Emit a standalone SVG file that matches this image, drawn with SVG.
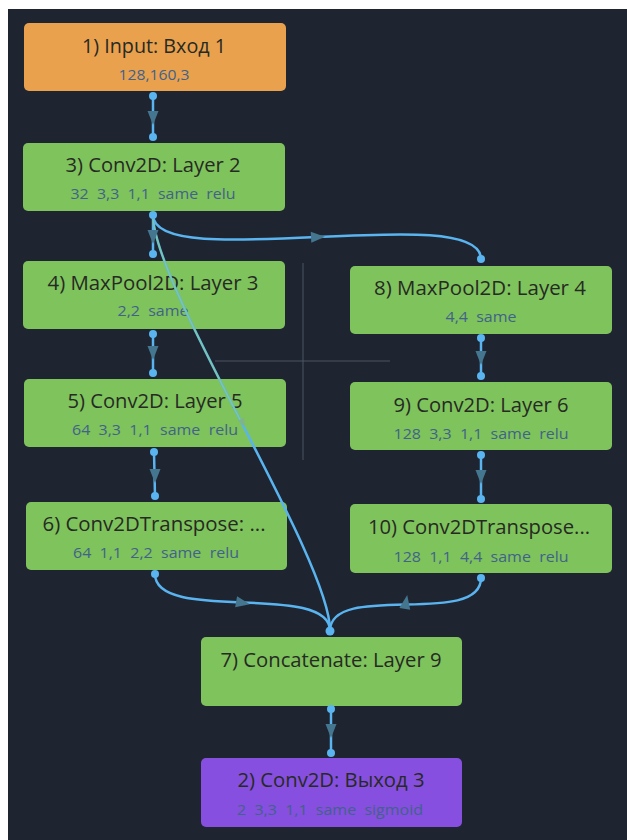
<svg xmlns="http://www.w3.org/2000/svg" xmlns:xlink="http://www.w3.org/1999/xlink" width="627" height="840" viewBox="0 0 627 840">
<style>
.t{font-family:"Open Sans","Noto Sans","Liberation Sans",sans-serif;font-size:20px;fill:#262a24;text-anchor:middle;white-space:pre}
.s{font-family:"Open Sans","Noto Sans","Liberation Sans",sans-serif;font-size:15px;fill:#41628a;text-anchor:middle;white-space:pre}
.e{fill:none;stroke:#5ab4ef;stroke-width:2.5}
.d{fill:#5ab4ef}
.a{fill:#44768f}
.g{fill:#7fc35c}
.x{stroke:#4a5462;stroke-width:1}
</style>
<defs>
<path id="arr" d="M-7,-5.5 L7,0 L-7,5.5 Z"/>
</defs>
<rect x="8" y="9" width="619" height="831" fill="#1e2430"/>
<g id="crosshair">
<line class="x" x1="303" y1="263" x2="303" y2="460"/>
<line class="x" x1="215" y1="361" x2="390" y2="361"/>
</g>
<g id="n1">
<rect x="24" y="23" width="262" height="68" rx="5" fill="#eaa14e"/>
<text class="t" x="154" y="53" textLength="144" lengthAdjust="spacingAndGlyphs">1) Input: Вход 1</text>
<text class="s" x="154" y="80" textLength="71" lengthAdjust="spacingAndGlyphs" fill="#4d6a8a">128,160,3</text>
</g>
<g id="n3">
<rect class="g" x="23" y="143" width="262" height="68" rx="5"/>
<text class="t" x="153" y="172" textLength="175" lengthAdjust="spacingAndGlyphs">3) Conv2D: Layer 2</text>
<text class="s" x="153" y="199" textLength="165" lengthAdjust="spacingAndGlyphs">32  3,3  1,1  same  relu</text>
</g>
<g id="n4">
<rect class="g" x="23" y="261" width="262" height="68" rx="5"/>
<text class="t" x="153" y="290" textLength="211" lengthAdjust="spacingAndGlyphs">4) MaxPool2D: Layer 3</text>
<text class="s" x="153" y="316" textLength="71" lengthAdjust="spacingAndGlyphs">2,2  same</text>
</g>
<g id="n5">
<rect class="g" x="24" y="379" width="262" height="68" rx="5"/>
<text class="t" x="155" y="408" textLength="175" lengthAdjust="spacingAndGlyphs">5) Conv2D: Layer 5</text>
<text class="s" x="155" y="435" textLength="166" lengthAdjust="spacingAndGlyphs">64  3,3  1,1  same  relu</text>
</g>
<g id="n6">
<rect class="g" x="26" y="502" width="261" height="68" rx="5"/>
<text class="t" x="154" y="531" textLength="223" lengthAdjust="spacingAndGlyphs">6) Conv2DTranspose: ...</text>
<text class="s" x="156" y="558" textLength="166" lengthAdjust="spacingAndGlyphs">64  1,1  2,2  same  relu</text>
</g>
<g id="n8">
<rect class="g" x="350" y="266" width="262" height="68" rx="5"/>
<text class="t" x="480" y="295" textLength="212" lengthAdjust="spacingAndGlyphs">8) MaxPool2D: Layer 4</text>
<text class="s" x="481" y="322" textLength="71" lengthAdjust="spacingAndGlyphs">4,4  same</text>
</g>
<g id="n9">
<rect class="g" x="350" y="382" width="262" height="68" rx="5"/>
<text class="t" x="481" y="412" textLength="175" lengthAdjust="spacingAndGlyphs">9) Conv2D: Layer 6</text>
<text class="s" x="481" y="439" textLength="175" lengthAdjust="spacingAndGlyphs">128  3,3  1,1  same  relu</text>
</g>
<g id="n10">
<rect class="g" x="350" y="504" width="262" height="69" rx="5"/>
<text class="t" x="479" y="534" textLength="222" lengthAdjust="spacingAndGlyphs">10) Conv2DTranspose...</text>
<text class="s" x="481" y="562" textLength="175" lengthAdjust="spacingAndGlyphs">128  1,1  4,4  same  relu</text>
</g>
<g id="n7">
<rect class="g" x="201" y="637" width="261" height="69" rx="5"/>
<text class="t" x="331" y="667" textLength="221" lengthAdjust="spacingAndGlyphs">7) Concatenate: Layer 9</text>
</g>
<g id="n2">
<rect x="201" y="758" width="261" height="69" rx="5" fill="#874fdf"/>
<text class="t" x="331" y="787" textLength="187" lengthAdjust="spacingAndGlyphs" fill="#221a30">2) Conv2D: Выход 3</text>
<text class="s" x="330" y="815" textLength="186" lengthAdjust="spacingAndGlyphs" fill="#3b4a8e">2  3,3  1,1  same  sigmoid</text>
</g>
<g id="connectors">
<path class="e" d="M153,96 L153,136"/>
<path class="e" d="M153,215 L153,255"/>
<path class="e" d="M153,215 C153,275 481,199 481,259"/>
<path class="e" d="M153,215 C153,287 330,558 330,630" stroke-width="2"/>
<path fill="none" stroke="#8fd07e" stroke-width="1.6" stroke-opacity="0.6" d="M153,215 C153,251 197.25,336.75 241.5,422.5"/>
<path class="e" d="M153,334 L153,373"/>
<path class="e" d="M154,452 L155,496"/>
<path class="e" d="M155,574 C155,624 330,581 330,631"/>
<path class="e" d="M481,578 C481,628 330,581 330,631"/>
<path class="e" d="M481,338 L481,376"/>
<path class="e" d="M481,455 L481,499"/>
<path class="e" d="M331,709 L331,753"/>
<use xlink:href="#arr" class="a" transform="translate(153,118) rotate(90)"/>
<use xlink:href="#arr" class="a" transform="translate(153,237) rotate(90)"/>
<use xlink:href="#arr" class="a" transform="translate(318,237) rotate(-3)"/>
<use xlink:href="#arr" fill="#7fb48a" transform="translate(243,423) rotate(63) scale(0.6)"/>
<use xlink:href="#arr" class="a" transform="translate(153,353) rotate(90)"/>
<use xlink:href="#arr" class="a" transform="translate(155,476) rotate(90)"/>
<use xlink:href="#arr" class="a" transform="translate(481,358) rotate(90)"/>
<use xlink:href="#arr" class="a" transform="translate(481,477) rotate(90)"/>
<use xlink:href="#arr" class="a" transform="translate(243,603) rotate(10)"/>
<use xlink:href="#arr" class="a" transform="translate(406,602) rotate(-80)"/>
<use xlink:href="#arr" class="a" transform="translate(331,731) rotate(90)"/>
<circle class="d" cx="153" cy="96" r="4"/>
<circle class="d" cx="153" cy="137" r="4"/>
<circle class="d" cx="153" cy="215" r="4"/>
<circle class="d" cx="153" cy="254" r="4"/>
<circle class="d" cx="481" cy="259" r="4"/>
<circle class="d" cx="153" cy="334" r="4"/>
<circle class="d" cx="153" cy="373" r="4"/>
<circle class="d" cx="154" cy="452" r="4"/>
<circle class="d" cx="155" cy="496" r="4"/>
<circle class="d" cx="155" cy="574" r="4"/>
<circle class="d" cx="481" cy="338" r="4"/>
<circle class="d" cx="481" cy="376" r="4"/>
<circle class="d" cx="481" cy="455" r="4"/>
<circle class="d" cx="481" cy="499" r="4"/>
<circle class="d" cx="481" cy="578" r="4"/>
<circle class="d" cx="330" cy="631" r="4.5"/>
<circle class="d" cx="331" cy="709" r="4"/>
<circle class="d" cx="331" cy="753" r="4"/>
</g>
</svg>
